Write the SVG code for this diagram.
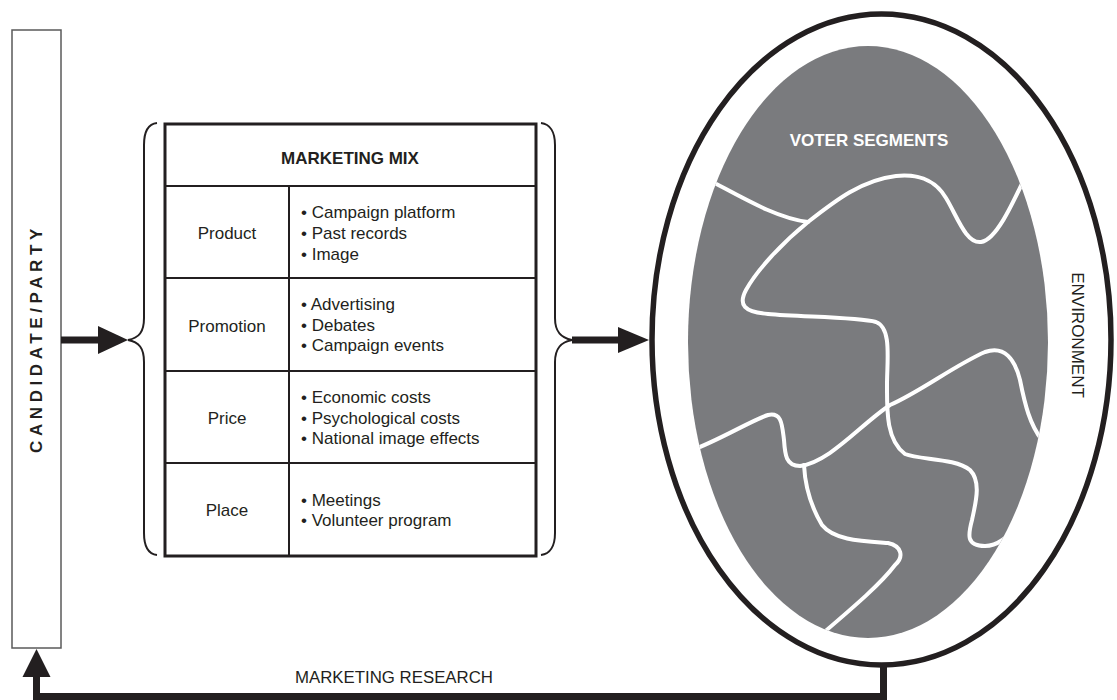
<svg xmlns="http://www.w3.org/2000/svg" width="1117" height="700" viewBox="0 0 1117 700">
  <style>
    .txt { font-family: "Liberation Sans", Arial, sans-serif; fill: #231f20; }
    .cell { font-size: 17px; }
    .lbl { font-size: 17px; text-anchor: middle; }
    .bold { font-weight: bold; }
    .grid { stroke: #231f20; stroke-width: 2; fill: none; }
    .brace { stroke: #231f20; stroke-width: 2; fill: none; }
    .shaft { stroke: #231f20; stroke-width: 7; fill: none; }
    .head { fill: #231f20; }
    .seam { stroke: #ffffff; stroke-width: 4; fill: none; stroke-linecap: round; stroke-linejoin: round; }
  </style>
  <defs>
    <clipPath id="voterClip">
      <ellipse cx="868" cy="342" rx="180" ry="296"/>
    </clipPath>
  </defs>

  <rect width="1117" height="700" fill="#ffffff"/>

  <!-- Candidate / party column -->
  <g id="candidate">
    <rect x="12" y="30" width="49" height="618" fill="#ffffff" stroke="#5a5a5a" stroke-width="1.5"/>
    <text class="txt bold" font-size="17" letter-spacing="4.6" transform="translate(42,453) rotate(-90)">CANDIDATE/PARTY</text>
  </g>

  <!-- Marketing mix table -->
  <g id="marketing-mix">
    <rect x="165" y="124" width="371" height="432" fill="#ffffff" stroke="#231f20" stroke-width="3"/>
    <line class="grid" x1="165" y1="186" x2="536" y2="186"/>
    <line class="grid" x1="165" y1="278" x2="536" y2="278"/>
    <line class="grid" x1="165" y1="371" x2="536" y2="371"/>
    <line class="grid" x1="165" y1="463" x2="536" y2="463"/>
    <line class="grid" x1="289" y1="186" x2="289" y2="556"/>
    <text class="txt lbl bold" x="350" y="164">MARKETING MIX</text>

    <text class="txt lbl" x="227" y="239">Product</text>
    <text class="txt cell" x="301" y="218">• Campaign platform</text>
    <text class="txt cell" x="301" y="239">• Past records</text>
    <text class="txt cell" x="301" y="260">• Image</text>

    <text class="txt lbl" x="227" y="332">Promotion</text>
    <text class="txt cell" x="301" y="310">• Advertising</text>
    <text class="txt cell" x="301" y="331">• Debates</text>
    <text class="txt cell" x="301" y="351">• Campaign events</text>

    <text class="txt lbl" x="227" y="424">Price</text>
    <text class="txt cell" x="301" y="403">• Economic costs</text>
    <text class="txt cell" x="301" y="424">• Psychological costs</text>
    <text class="txt cell" x="301" y="444">• National image effects</text>

    <text class="txt lbl" x="227" y="516">Place</text>
    <text class="txt cell" x="301" y="506">• Meetings</text>
    <text class="txt cell" x="301" y="526">• Volunteer program</text>
  </g>

  <!-- Braces around the mix -->
  <g id="braces">
    <path class="brace" d="M 157 123 C 148 124, 144 132, 144 145 L 144 318 C 144 332, 139 338, 128 340 C 139 342, 144 348, 144 362 L 144 533 C 144 546, 148 554, 157 555"/>
    <path class="brace" d="M 541 123 C 550 124, 555 132, 555 145 L 555 318 C 555 332, 561 338, 572 340 C 561 342, 555 348, 555 362 L 555 533 C 555 546, 550 554, 541 555"/>
  </g>

  <!-- Environment and voter segments -->
  <g id="environment">
    <ellipse cx="881.5" cy="339.5" rx="229.5" ry="325.5" fill="#ffffff" stroke="#231f20" stroke-width="5.5"/>
    <text class="txt" font-size="17" transform="translate(1072,335) rotate(90)" text-anchor="middle">ENVIRONMENT</text>
  </g>

  <g id="voter-segments">
    <ellipse cx="868" cy="342" rx="180" ry="296" fill="#7a7b7e"/>
    <g clip-path="url(#voterClip)">
      <path class="seam" d="M 705 178 C 740 196, 775 218, 808 222"/>
      <path class="seam" d="M 1026 175 C 1012 205, 996 240, 981 242 C 966 244, 957 216, 946 198 C 934 178, 916 174, 896 176 C 862 180, 836 200, 808 222 C 782 243, 757 270, 746 290 C 738 305, 744 312, 768 314 C 800 317, 858 317, 876 322 C 892 328, 887 360, 887 385 C 887 410, 886 440, 905 454 C 920 460, 955 458, 970 470 C 982 482, 975 505, 972 520 C 968 535, 966 546, 985 546 C 998 546, 1008 536, 1016 528"/>
      <path class="seam" d="M 690 451 C 720 440, 752 420, 768 415 C 782 412, 782 425, 784 440 C 785 455, 786 466, 800 466 C 830 462, 860 425, 890 405 C 920 392, 955 365, 985 352 C 1005 345, 1015 360, 1020 380 C 1025 405, 1030 425, 1042 440"/>
      <path class="seam" d="M 804 465 C 805 485, 810 505, 822 525 C 834 540, 860 541, 888 543 C 902 546, 904 557, 895 565 C 880 585, 850 610, 815 640"/>
    </g>
    <text class="bold" x="869" y="146" font-family="Liberation Sans, Arial, sans-serif" font-size="17" fill="#ffffff" text-anchor="middle">VOTER SEGMENTS</text>
  </g>

  <!-- Connectors -->
  <g id="connectors">
    <line class="shaft" x1="61" y1="340" x2="100" y2="340"/>
    <polygon class="head" points="98,326 128,340 98,354"/>
    <line class="shaft" x1="572" y1="340" x2="620" y2="340"/>
    <polygon class="head" points="618,327 649,340 618,353"/>
    <path class="shaft" d="M 883.5 667 L 883.5 696.5 L 36.5 696.5 L 36.5 675"/>
    <polygon class="head" points="22.5,677 36.5,649 50.5,677"/>
    <text class="txt" x="394" y="683" font-size="16" text-anchor="middle" textLength="198" lengthAdjust="spacingAndGlyphs">MARKETING RESEARCH</text>
  </g>
</svg>
